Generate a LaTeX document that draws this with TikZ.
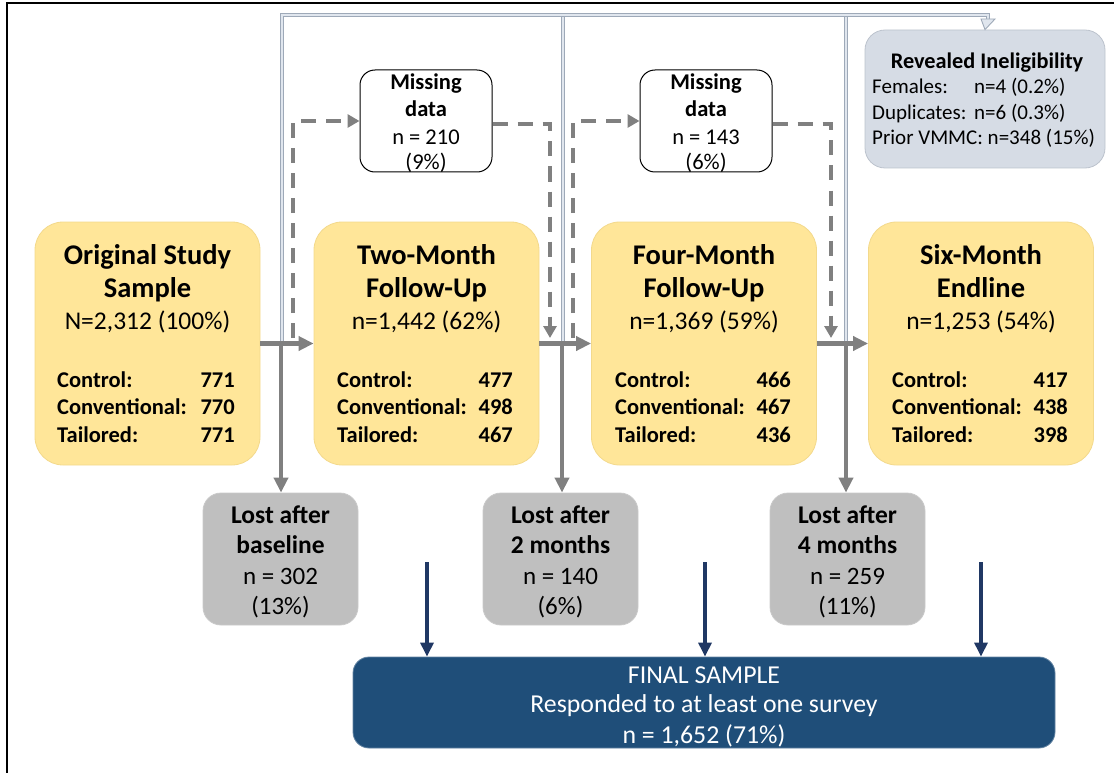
\documentclass[tikz,border=0pt]{standalone}
\usepackage{fontspec}
\setmainfont{Carlito}
\usetikzlibrary{arrows.meta}
\definecolor{yel}{HTML}{FFE699}
\definecolor{yelD}{HTML}{F3D98C}
\definecolor{lgray}{HTML}{BFBFBF}
\definecolor{garr}{HTML}{808080}
\definecolor{rfill}{HTML}{D6DCE5}
\definecolor{redge}{HTML}{BCC3CD}
\definecolor{fblue}{HTML}{1F4E79}
\definecolor{navy}{HTML}{203864}
\definecolor{lfill}{HTML}{E0E6EE}
\definecolor{ledge}{HTML}{9EA9B8}
\begin{document}
\begin{tikzpicture}[x=1pt,y=-1pt,
  ybox/.style={fill=yel, draw=yelD, line width=0.8pt, rounded corners=28pt, minimum width=225pt, minimum height=243pt, inner sep=0pt},
  lbox/.style={fill=lgray, draw=lgray!85!white, line width=0.8pt, rounded corners=18pt, minimum width=155pt, minimum height=132pt, inner sep=0pt},
  mbox/.style={fill=white, draw=black, line width=1pt, rounded corners=15pt, minimum width=132pt, minimum height=102pt, inner sep=0pt},
  rbox/.style={fill=rfill, draw=redge, line width=0.8pt, rounded corners=20pt, minimum width=240pt, minimum height=138pt, inner sep=0pt},
  fbox/.style={fill=fblue, draw=fblue!70!white, line width=0.8pt, rounded corners=16pt, minimum width=702pt, minimum height=91pt, inner sep=0pt},
  txt/.style={anchor=base, inner sep=0pt},
  ttl/.style={txt, font=\fontsize{28.5}{34}\selectfont\bfseries},
  nln/.style={txt, font=\fontsize{25.5}{30}\selectfont},
  rowl/.style={inner sep=0pt, anchor=base west, font=\fontsize{22.5}{27}\selectfont\bfseries},
  rowr/.style={inner sep=0pt, anchor=base east, font=\fontsize{22.5}{27}\selectfont\bfseries},
  missb/.style={txt, font=\fontsize{22.5}{27}\selectfont\bfseries},
  missr/.style={txt, font=\fontsize{22.5}{27}\selectfont},
  lostb/.style={txt, font=\fontsize{25.5}{30}\selectfont\bfseries},
  lostr/.style={txt, font=\fontsize{25}{30}\selectfont},
  fin/.style={txt, text=white, font=\fontsize{25.8}{30}\selectfont},
  revt/.style={txt, font=\fontsize{22.3}{26}\selectfont\bfseries},
  revl/.style={inner sep=0pt, anchor=base west, font=\fontsize{21}{25}\selectfont},
  garrow/.style={draw=garr, line width=4.5pt, -{Triangle[length=15pt,width=14pt]}},
  dsh/.style={draw=garr, line width=4pt, dash pattern=on 15pt off 10pt},
  dsharrow/.style={dsh, -{Triangle[length=12pt,width=13pt]}},
  narrow/.style={draw=navy, line width=3.2pt, -{Triangle[length=14pt,width=13pt]}},
  lline/.style={draw=ledge, line width=0.9pt, double=lfill, double distance=2.6pt}
]
\useasboundingbox (0,0) rectangle (1114,773);
% frame
\draw[black, line width=1.6pt] (7,773) -- (7,3) -- (1114,3);

% stage boxes
\node[ybox] (b1) at (147.5,343.5) {};
\node[ybox] (b2) at (426.5,343.5) {};
\node[ybox] (b3) at (704,343.5) {};
\node[ybox] (b4) at (981,343.5) {};

% lost boxes
\node[lbox] (l1) at (280.5,559) {};
\node[lbox] (l2) at (560.5,559) {};
\node[lbox] (l3) at (847.5,559) {};

% missing boxes
\node[mbox] (m1) at (426,121) {};
\node[mbox] (m2) at (706,121) {};

% revealed ineligibility
\node[rbox] (r) at (985,99) {};

% final sample
\node[fbox] (f) at (704,702.5) {};

% ---- light lines (ineligibility)
\coordinate (k1) at (282,341);
\coordinate (k2) at (563,341);
\coordinate (k3) at (846,341);
\coordinate (top) at (988,15);
\draw[lline] (k2) -- (k2 |- top) (k3) -- (k3 |- top);
\draw[lline] (k1) -- (k1 |- top) -- (top) -- ([yshift=-4pt]top);
\draw[ledge, line width=0.9pt, fill=lfill] ([xshift=-7pt,yshift=-4pt]top) -- ([xshift=7pt,yshift=-4pt]top) -- (r.north) -- cycle;

% ---- dashed missing-data connectors
\coordinate (d1a) at (293,338);
\coordinate (d1b) at (550,124);
\coordinate (d1c) at (550,338);
\draw[dsharrow] (d1a) -- (d1a |- m1.west) -- (m1.west);
\draw[dsharrow] (m1.east |- d1b) -- (d1b) -- (d1c);
\coordinate (d2a) at (573,338);
\coordinate (d2b) at (831,124);
\coordinate (d2c) at (831,338);
\draw[dsharrow] (d2a) -- (d2a |- m2.west) -- (m2.west);
\draw[dsharrow] (m2.east |- d2b) -- (d2b) -- (d2c);

% ---- main flow
\draw[garrow] (b1.east) -- (b2.west);
\draw[garrow] (b2.east) -- (b3.west);
\draw[garrow] (b3.east) -- (b4.west);
\coordinate (j1) at (281,343.5);
\coordinate (j2) at (562,343.5);
\coordinate (j3) at (846,343.5);
\draw[garrow] (j1) -- (j1 |- l1.north);
\draw[garrow] (j2) -- (j2 |- l2.north);
\draw[garrow] (j3) -- (j3 |- l3.north);

% ---- navy arrows to final sample
\coordinate (n1) at (427,562);
\coordinate (n2) at (705,562);
\coordinate (n3) at (981,562);
\draw[narrow] (n1) -- (n1 |- f.north);
\draw[narrow] (n2) -- (n2 |- f.north);
\draw[narrow] (n3) -- (n3 |- f.north);

% ---- stage texts
\node[ttl] (b1t1) at (147.5,264) {Original Study};
\node[ttl] (b1t2) at (147.5,297) {Sample};
\node[nln] (b1n) at (147.5,329) {N=2,312 (100\%)};
\node[rowl] (b1c) at (57,387) {Control:};
\node[rowr] (b1cv) at (235,387) {771};
\node[rowl] (b1v) at (57,414.5) {Conventional:};
\node[rowr] (b1vv) at (235,414.5) {770};
\node[rowl] (b1a) at (57,442) {Tailored:};
\node[rowr] (b1av) at (235,442) {771};

\node[ttl] (b2t1) at (426.5,264) {Two-Month};
\node[ttl] (b2t2) at (426.5,297) {Follow-Up};
\node[nln] (b2n) at (426.5,329) {n=1,442 (62\%)};
\node[rowl] (b2c) at (337,387) {Control:};
\node[rowr] (b2cv) at (513,387) {477};
\node[rowl] (b2v) at (337,414.5) {Conventional:};
\node[rowr] (b2vv) at (513,414.5) {498};
\node[rowl] (b2a) at (337,442) {Tailored:};
\node[rowr] (b2av) at (513,442) {467};

\node[ttl] (b3t1) at (704,264) {Four-Month};
\node[ttl] (b3t2) at (704,297) {Follow-Up};
\node[nln] (b3n) at (704,329) {n=1,369 (59\%)};
\node[rowl] (b3c) at (615,387) {Control:};
\node[rowr] (b3cv) at (791,387) {466};
\node[rowl] (b3v) at (615,414.5) {Conventional:};
\node[rowr] (b3vv) at (791,414.5) {467};
\node[rowl] (b3a) at (615,442) {Tailored:};
\node[rowr] (b3av) at (791,442) {436};

\node[ttl] (b4t1) at (981,264) {Six-Month};
\node[ttl] (b4t2) at (981,297) {Endline};
\node[nln] (b4n) at (981,329) {n=1,253 (54\%)};
\node[rowl] (b4c) at (892,387) {Control:};
\node[rowr] (b4cv) at (1068,387) {417};
\node[rowl] (b4v) at (892,414.5) {Conventional:};
\node[rowr] (b4vv) at (1068,414.5) {438};
\node[rowl] (b4a) at (892,442) {Tailored:};
\node[rowr] (b4av) at (1068,442) {398};

% ---- missing texts
\node[missb] (m1a) at (426,90) {Missing};
\node[missb] (m1b) at (426,117) {data};
\node[missr] (m1c) at (426,144.5) {n = 210};
\node[missr] (m1d) at (426,170) {(9\%)};
\node[missb] (m2a) at (706,90) {Missing};
\node[missb] (m2b) at (706,117) {data};
\node[missr] (m2c) at (706,144.5) {n = 143};
\node[missr] (m2d) at (706,170) {(6\%)};

% ---- lost texts
\node[lostb] (l1a) at (280.5,523) {Lost after};
\node[lostb] (l1b) at (280.5,553) {baseline};
\node[lostr] (l1c) at (280.5,584) {n = 302};
\node[lostr] (l1d) at (280.5,614) {(13\%)};
\node[lostb] (l2a) at (560.5,523) {Lost after};
\node[lostb] (l2b) at (560.5,553) {2 months};
\node[lostr] (l2c) at (560.5,584) {n = 140};
\node[lostr] (l2d) at (560.5,614) {(6\%)};
\node[lostb] (l3a) at (847.5,523) {Lost after};
\node[lostb] (l3b) at (847.5,553) {4 months};
\node[lostr] (l3c) at (847.5,584) {n = 259};
\node[lostr] (l3d) at (847.5,614) {(11\%)};

% ---- revealed texts
\node[revt] (rt) at (987,69) {Revealed Ineligibility};
\node[revl] (r1) at (872,94) {Females:};
\node[revl] (r1v) at (974,94) {n=4 (0.2\%)};
\node[revl] (r2) at (872,119.5) {Duplicates:};
\node[revl] (r2v) at (974,119.5) {n=6 (0.3\%)};
\node[revl] (r3) at (872,145) {Prior VMMC: n=348 (15\%)};

% ---- final texts
\node[fin] (f1) at (704,683) {FINAL SAMPLE};
\node[fin] (f2) at (704,712.5) {Responded to at least one survey};
\node[fin] (f3) at (704,743) {n = 1,652 (71\%)};
\end{tikzpicture}
\end{document}
